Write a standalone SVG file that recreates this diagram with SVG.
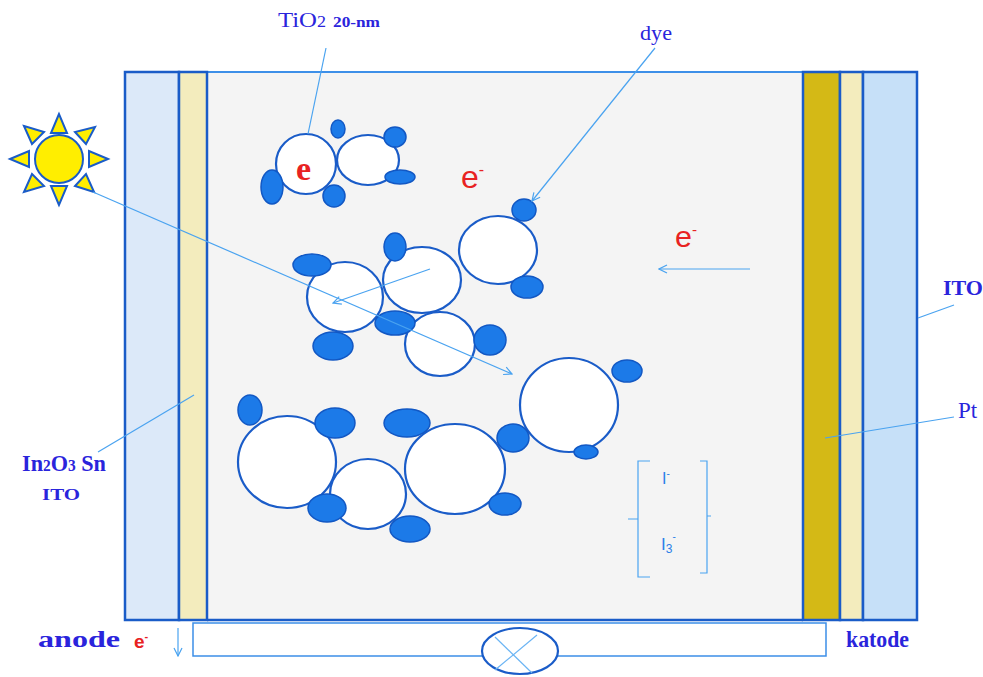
<svg xmlns="http://www.w3.org/2000/svg" width="983" height="677" viewBox="0 0 983 677">
  <defs>
    <style>
      .layer { stroke: #1a5cc8; stroke-width: 2.5; }
      .grain { fill: #ffffff; stroke: #1a5cc8; stroke-width: 2.2; }
      .dye { fill: #1c7ae8; stroke: #1258c4; stroke-width: 1.5; }
      .lead { fill: none; stroke: #4aa3f0; stroke-width: 1.2; }
      .wire { fill: none; stroke: #3d8fe8; stroke-width: 1.5; }
      .lbl { font-family: "Liberation Serif", serif; fill: #2a24dc; }
      .b { font-weight: bold; }
      .red { font-family: "Liberation Sans", sans-serif; fill: #e82222; }
      .ion { font-family: "Liberation Sans", sans-serif; fill: #2a80e8; }
    </style>
    <marker id="open" viewBox="0 0 10 10" refX="9" refY="5" markerWidth="10" markerHeight="10" markerUnits="userSpaceOnUse" orient="auto">
      <path d="M1,1 L9,5 L1,9" fill="none" stroke="#4aa3f0" stroke-width="1.2"/>
    </marker>
  </defs>

  <rect width="983" height="677" fill="#ffffff"/>

  <!-- cell layers -->
  <g id="cell">
    <rect id="electrolyte" x="207" y="72" width="596" height="548" fill="#f4f4f4" stroke="#3d8fe8" stroke-width="2"/>
    <rect id="ito-left" class="layer" x="125" y="72" width="54" height="548" fill="#dce9f9"/>
    <rect id="in2o3-left" class="layer" x="179" y="72" width="28" height="548" fill="#f3ecbd"/>
    <rect id="pt" class="layer" x="803" y="72" width="37" height="548" fill="#d4b916"/>
    <rect id="in2o3-right" class="layer" x="840" y="72" width="23" height="548" fill="#f3ecbd"/>
    <rect id="ito-right" class="layer" x="863" y="72" width="54" height="548" fill="#c6e0f8"/>
    <line x1="207" y1="620" x2="803" y2="620" stroke="#1a5cc8" stroke-width="2.5"/>
  </g>

  <!-- sun -->
  <g id="sun" fill="#ffee00" stroke="#1a5cc8" stroke-width="2">
    <g id="rays">
      <polygon points="59,114 51,133 67,133"/>
      <polygon points="59,205 51,186 67,186"/>
      <polygon points="10,159 29,151 29,167"/>
      <polygon points="108,159 89,151 89,167"/>
      <polygon points="24,126 44,132 32,144"/>
      <polygon points="95,127 86,144 75,132"/>
      <polygon points="24,192 32,174 44,186"/>
      <polygon points="94,192 75,186 86,174"/>
    </g>
    <circle cx="59" cy="159" r="24"/>
  </g>

  <!-- TiO2 grains and dye molecules -->
  <g id="particles">
    <g id="cluster-top">
      <circle class="grain" cx="306" cy="164" r="30"/>
      <ellipse class="grain" cx="368" cy="160" rx="31" ry="25"/>
      <ellipse class="dye" cx="338" cy="129" rx="7" ry="9"/>
      <ellipse class="dye" cx="395" cy="137" rx="11" ry="10"/>
      <ellipse class="dye" cx="400" cy="177" rx="15" ry="7"/>
      <ellipse class="dye" cx="272" cy="187" rx="11" ry="17"/>
      <ellipse class="dye" cx="334" cy="196" rx="11" ry="11"/>
    </g>
    <g id="cluster-middle">
      <ellipse class="grain" cx="345" cy="297" rx="38" ry="35"/>
      <ellipse class="grain" cx="422" cy="280" rx="39" ry="33"/>
      <ellipse class="grain" cx="440" cy="344" rx="35" ry="32"/>
      <ellipse class="grain" cx="498" cy="250" rx="39" ry="34"/>
      <ellipse class="dye" cx="312" cy="265" rx="19" ry="11"/>
      <ellipse class="dye" cx="395" cy="247" rx="11" ry="14"/>
      <ellipse class="dye" cx="395" cy="323" rx="20" ry="12"/>
      <ellipse class="dye" cx="333" cy="346" rx="20" ry="14"/>
      <ellipse class="dye" cx="490" cy="340" rx="16" ry="15"/>
      <ellipse class="dye" cx="527" cy="287" rx="16" ry="11"/>
      <ellipse class="dye" cx="524" cy="210" rx="12" ry="11"/>
    </g>
    <g id="cluster-bottom">
      <ellipse class="grain" cx="287" cy="462" rx="49" ry="46"/>
      <ellipse class="grain" cx="368" cy="494" rx="38" ry="35"/>
      <ellipse class="grain" cx="455" cy="469" rx="50" ry="45"/>
      <ellipse class="grain" cx="569" cy="405" rx="49" ry="47"/>
      <ellipse class="dye" cx="250" cy="410" rx="12" ry="15"/>
      <ellipse class="dye" cx="335" cy="423" rx="20" ry="15"/>
      <ellipse class="dye" cx="407" cy="423" rx="23" ry="14"/>
      <ellipse class="dye" cx="327" cy="508" rx="19" ry="14"/>
      <ellipse class="dye" cx="410" cy="529" rx="20" ry="13"/>
      <ellipse class="dye" cx="513" cy="438" rx="16" ry="14"/>
      <ellipse class="dye" cx="505" cy="504" rx="16" ry="11"/>
      <ellipse class="dye" cx="586" cy="452" rx="12" ry="7"/>
      <ellipse class="dye" cx="627" cy="371" rx="15" ry="11"/>
    </g>
  </g>

  <!-- external circuit with load -->
  <g id="circuit">
    <path class="wire" d="M193,623 V656 H826 V623 Z"/>
    <ellipse id="load" cx="520" cy="651" rx="38" ry="23" fill="#ffffff" stroke="#1a5cc8" stroke-width="2.2"/>
    <line x1="495" y1="637" x2="532" y2="673" stroke="#6ab4f4" stroke-width="1.2"/>
    <line x1="537" y1="635" x2="495" y2="670" stroke="#6ab4f4" stroke-width="1.2"/>
  </g>

  <!-- redox couple bracket -->
  <g id="electrolyte-ions">
    <path class="lead" d="M650,461 H638 V577 H650 M628,519 H638"/>
    <path class="lead" d="M700,461 H707 V573 H700 M707,516 H711"/>
    <text class="ion" x="662" y="484" font-size="16">I<tspan font-size="10" dy="-7">-</tspan></text>
    <text class="ion" x="661" y="550" font-size="17">I<tspan font-size="12" dy="3">3</tspan><tspan font-size="10" dy="-13">-</tspan></text>
  </g>

  <!-- connectors: leader lines and arrows -->
  <g id="connectors">
    <line class="lead" x1="93" y1="192" x2="512" y2="374" marker-end="url(#open)"/>
    <line class="lead" x1="430" y1="269" x2="333" y2="303" marker-end="url(#open)"/>
    <line class="lead" x1="750" y1="269" x2="659" y2="269" marker-end="url(#open)"/>
    <line class="lead" x1="655" y1="48" x2="532" y2="201" marker-end="url(#open)"/>
    <line class="lead" x1="326" y1="48" x2="308" y2="134"/>
    <line class="lead" x1="98" y1="452" x2="194" y2="395"/>
    <line class="lead" x1="918" y1="318" x2="954" y2="305"/>
    <line class="lead" x1="825" y1="438" x2="954" y2="417"/>
    <line class="lead" x1="178" y1="628" x2="178" y2="656" marker-end="url(#open)"/>
  </g>

  <!-- labels -->
  <g id="labels">
    <text class="lbl" x="278" y="27" font-size="22" textLength="48" lengthAdjust="spacingAndGlyphs">TiO<tspan font-size="16">2</tspan></text>
    <text class="lbl b" x="333" y="27" font-size="14" textLength="47" lengthAdjust="spacingAndGlyphs">20-nm</text>
    <text class="lbl" x="640" y="40" font-size="20" textLength="32" lengthAdjust="spacingAndGlyphs">dye</text>
    <text class="lbl b" x="22" y="471" font-size="23" textLength="84" lengthAdjust="spacingAndGlyphs">In<tspan font-size="16">2</tspan>O<tspan font-size="16">3</tspan> Sn</text>
    <text class="lbl b" x="42" y="500" font-size="17" textLength="38" lengthAdjust="spacingAndGlyphs">ITO</text>
    <text class="lbl b" x="943" y="295" font-size="21" textLength="40" lengthAdjust="spacingAndGlyphs">ITO</text>
    <text class="lbl" x="958" y="418" font-size="23">Pt</text>
    <text class="lbl b" x="38" y="647" font-size="23" textLength="82" lengthAdjust="spacingAndGlyphs">anode</text>
    <text class="lbl b" x="846" y="647" font-size="23" textLength="63" lengthAdjust="spacingAndGlyphs">katode</text>
    <text class="red" x="134" y="648" font-size="19" font-weight="bold">e<tspan font-size="11" dy="-8">-</tspan></text>
    <text x="296" y="180" font-family="Liberation Serif, serif" font-weight="bold" font-size="34" fill="#e82222">e</text>
    <text class="red" x="461" y="188" font-size="32">e<tspan font-size="16" dy="-13">-</tspan></text>
    <text class="red" x="675" y="247" font-size="30" textLength="22" lengthAdjust="spacingAndGlyphs">e<tspan font-size="15" dy="-12">-</tspan></text>
  </g>
</svg>
